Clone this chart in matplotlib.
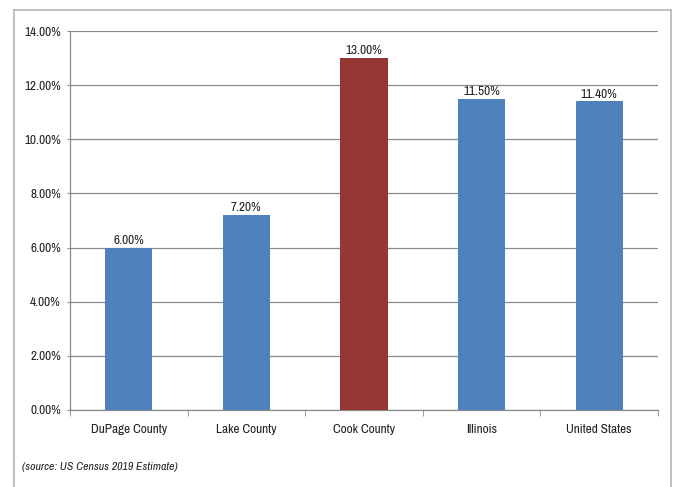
import matplotlib
matplotlib.use("Agg")
import matplotlib.pyplot as plt
from matplotlib.lines import Line2D
from matplotlib.ticker import FuncFormatter, MultipleLocator
from matplotlib import font_manager

categories = ["DuPage County", "Lake County", "Cook County", "Illinois", "United States"]
values = [6.00, 7.20, 13.00, 11.50, 11.40]
colors = ["#4F81BD", "#4F81BD", "#953735", "#4F81BD", "#4F81BD"]
source_note = "(source: US Census 2019 Estimate)"

# prefer a narrow sans face when one is available
available = {f.name for f in font_manager.fontManager.ttflist}
preferred = ["Liberation Sans Narrow", "Arial Narrow", "Archivo Narrow", "Liberation Sans"]
families = [f for f in preferred if f in available] + ["DejaVu Sans"]
plt.rcParams["font.family"] = families

W, H = 676, 487
fig = plt.figure(figsize=(W / 100, H / 100), dpi=100)
ax = fig.add_axes([70 / W, 1 - 410 / H, (658 - 70) / W, (410 - 31) / H])

x = range(len(categories))
bars = ax.bar(x, values, width=0.4, color=colors, zorder=3)
for b, v in zip(bars, values):
    ax.text(b.get_x() + b.get_width() / 2, v + 0.06, f"{v:.2f}%",
            ha="center", va="bottom", fontsize=9.5, color="#222222", zorder=4)

ax.set_xlim(-0.5, len(categories) - 0.5)
ax.set_ylim(0, 14)
ax.yaxis.set_major_locator(MultipleLocator(2))
ax.yaxis.set_major_formatter(FuncFormatter(lambda v, p: f"{v:.2f}%"))
ax.grid(axis="y", color="#8a8a8a", linewidth=0.9, zorder=0)

ax.set_xticks(list(x))
ax.set_xticklabels(categories)
ax.set_xticks([i + 0.5 for i in range(-1, len(categories))], minor=True)
ax.tick_params(axis="x", which="major", length=0, pad=10, labelsize=9.5, labelcolor="#222222")
ax.tick_params(axis="x", which="minor", length=4, color="#8a8a8a", direction="out")
ax.tick_params(axis="y", length=2.5, color="#8a8a8a", labelsize=9.5, labelcolor="#222222", pad=4)

for s in ("top", "right"):
    ax.spines[s].set_visible(False)
for s in ("left", "bottom"):
    ax.spines[s].set_color("#8a8a8a")
    ax.spines[s].set_linewidth(0.9)

# outer chart frame
fc = "#b4b4b4"
def px(xp, yp):
    return xp / W, 1 - yp / H
for (x0, y0), (x1, y1) in [((14, 10), (671, 10)), ((14, 10), (14, 495)), ((671, 10), (671, 495))]:
    a, b = px(x0, y0)
    c, d = px(x1, y1)
    fig.add_artist(Line2D([a, c], [b, d], color=fc, linewidth=1.2, transform=fig.transFigure))

fig.text(22 / W, 1 - 467 / H, source_note, fontsize=8.5, style="italic",
         color="#222222", ha="left", va="center")

fig.savefig("out.png", dpi=100)
